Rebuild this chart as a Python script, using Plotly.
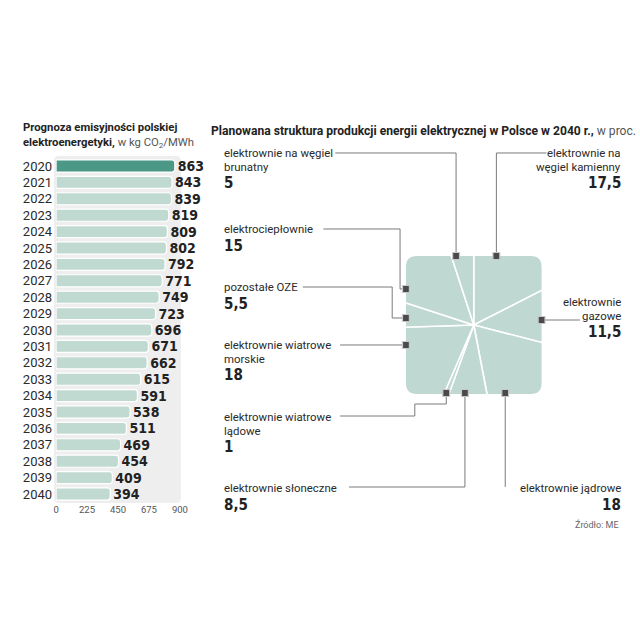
import plotly.graph_objects as go

# ---------------- data ----------------
years = [str(y) for y in range(2020, 2041)]
emissions = [863, 843, 839, 819, 809, 802, 792, 771, 749, 723, 696,
             671, 662, 615, 591, 538, 511, 469, 454, 409, 394]
x_ticks = [0, 225, 450, 675, 900]

# energy mix 2040, clockwise from 12 o'clock
mix_names = ["elektrownie na węgiel kamienny", "elektrownie gazowe",
             "elektrownie jądrowe", "elektrownie słoneczne",
             "elektrownie wiatrowe lądowe", "elektrownie wiatrowe morskie",
             "pozostałe OZE", "elektrociepłownie",
             "elektrownie na węgiel brunatny"]
mix_values = [17.5, 11.5, 18, 8.5, 1, 18, 5.5, 15, 5]

# ---------------- styling ----------------
W = 640
FONT = "Roboto, 'Liberation Sans', sans-serif"
COND = "'Liberation Sans Narrow', 'DejaVu Sans Condensed', Roboto, sans-serif"
DARK = "#4b9886"
LIGHT = "#c0dad2"
PIE = "#bfd8d1"
TXT = "#222222"
LINE = "#7a7a7a"


def X(px):
    return px / W


def Y(py):
    return 1 - py / W


def fmt(v):
    return f"{v:g}".replace(".", ",")


def rrect(x0, y0, x1, y1, r):
    pts = [
        ("M", x0 + r, y0), ("L", x1 - r, y0), ("Q", x1, y0, x1, y0 + r),
        ("L", x1, y1 - r), ("Q", x1, y1, x1 - r, y1), ("L", x0 + r, y1),
        ("Q", x0, y1, x0, y1 - r), ("L", x0, y0 + r), ("Q", x0, y0, x0 + r, y0),
    ]
    s = ""
    for p in pts:
        cmd = p[0]
        coords = p[1:]
        parts = []
        for i in range(0, len(coords), 2):
            parts.append(f"{X(coords[i]):.5f},{Y(coords[i + 1]):.5f}")
        s += cmd + " ".join(parts) + " "
    return s + "Z"


def poly(points):
    return "M" + " L".join(f"{X(a):.5f},{Y(b):.5f}" for a, b in points)


fig = go.Figure()

# ---------------- left: bar chart ----------------
fig.add_trace(go.Bar(
    y=years, x=emissions, orientation="h",
    marker=dict(color=[DARK] + [LIGHT] * (len(years) - 1),
                line=dict(color="white", width=1.2), cornerradius=3),
    width=0.74,
    text=[str(v) for v in emissions], textposition="outside",
    constraintext="none",
    textfont=dict(family=COND, size=14, color=TXT, weight="bold"),
    cliponaxis=False, hoverinfo="skip", showlegend=False,
    xaxis="x", yaxis="y",
))

y_top, y_bot = 157.8, 502.2

# ---------------- right: pie clipped to a rounded square ----------------
cx, cy, R = 479, 325, 97
fig.add_trace(go.Pie(
    values=mix_values, labels=mix_names, sort=False,
    direction="clockwise", rotation=0,
    marker=dict(colors=[PIE] * len(mix_values), line=dict(color="white", width=1.6)),
    textinfo="none", hoverinfo="skip", showlegend=False,
    domain=dict(x=[X(cx - R), X(cx + R)], y=[Y(cy + R), Y(cy - R)]),
))

shapes = []
# gray panel behind the bars
shapes.append(dict(type="path", xref="paper", yref="paper", layer="below",
                   path=rrect(52, 156, 181, 503, 5),
                   fillcolor="#eeeeee", line=dict(width=0)))

# white mask outside the rounded square
sq = (410, 256, 548, 394)
outer = poly([(cx - R - 4, cy - R - 4), (cx + R + 4, cy - R - 4),
              (cx + R + 4, cy + R + 4), (cx - R - 4, cy + R + 4)]) + " Z "
shapes.append(dict(type="path", xref="paper", yref="paper", layer="above",
                   path=outer + rrect(*sq, 11), fillrule="evenodd",
                   fillcolor="white", line=dict(width=0)))

# connector lines
connectors = [
    [(461, 255), (461, 153), (338, 153)],
    [(502, 255), (502, 153), (553, 153)],
    [(410, 289), (404, 289), (404, 229), (326, 229)],
    [(410, 318), (396, 318), (396, 287), (305, 287)],
    [(410, 345), (343, 345)],
    [(451, 393), (451, 404), (419, 404), (419, 416), (343, 416)],
    [(470, 393), (470, 487), (352, 487)],
    [(511, 393), (511, 487)],
    [(548, 320), (587, 320)],
]
for c in connectors:
    shapes.append(dict(type="path", xref="paper", yref="paper", layer="above",
                       path=poly(c), line=dict(color=LINE, width=1)))

markers = [(461, 256), (502, 256), (410, 289), (410, 318), (410, 345),
           (451, 393), (470, 393), (511, 393), (548, 320)]
for mx, my in markers:
    shapes.append(dict(type="rect", xref="paper", yref="paper", layer="above",
                       x0=X(mx - 3.5), x1=X(mx + 3.5), y0=Y(my + 3.5), y1=Y(my - 3.5),
                       fillcolor="#4a4a4a", line=dict(color="#c8c8c8", width=1.2)))

annotations = []


def txt(x, y, s, anchor="left", size=11.4, bold=False, color=TXT, family=FONT):
    annotations.append(dict(
        x=X(x), y=Y(y), xref="paper", yref="paper", text=s, showarrow=False,
        xanchor=anchor, yanchor="middle", align=anchor,
        font=dict(family=family, size=size, color=color,
                  weight="bold" if bold else "normal")))


txt(18, 128, "<b>Prognoza emisyjności polskiej</b>", size=11.3)
txt(18, 143, "<b>elektroenergetyki,</b> <span style='color:#555'>w kg CO<sub>2</sub>/MWh</span>",
    size=11.3)
txt(210, 131, "<b>Planowana struktura produkcji energii elektrycznej w Polsce w 2040 r.,</b>"
              " <span style='color:#555'>w proc.</span>", size=12.1)

LH = 14
blocks = [
    (["elektrownie na węgiel", "brunatny"], 8, 223, 153, "left"),
    (["elektrownie na", "węgiel kamienny"], 0, 631, 153, "right"),
    (["elektrociepłownie"], 7, 223, 229, "left"),
    (["pozostałe OZE"], 6, 223, 287, "left"),
    (["elektrownie wiatrowe", "morskie"], 5, 223, 345, "left"),
    (["elektrownie", "gazowe"], 1, 631, 302, "right"),
    (["elektrownie wiatrowe", "lądowe"], 4, 223, 417, "left"),
    (["elektrownie słoneczne"], 3, 223, 488, "left"),
    (["elektrownie jądrowe"], 2, 631, 488, "right"),
]
for lines, idx, x, y0, anc in blocks:
    for i, ln in enumerate(lines):
        txt(x, y0 + i * LH, ln, anchor=anc, size=11.4, color="#2a2a2a")
    gap = 17 if len(lines) == 1 else 16
    txt(x, y0 + (len(lines) - 1) * LH + gap, fmt(mix_values[idx]), anchor=anc,
        size=15, bold=True, family=COND)

txt(629, 524, "Źródło: ME", anchor="right", size=9, color="#666")

fig.update_layout(
    width=W, height=W, margin=dict(l=0, r=0, t=0, b=0),
    paper_bgcolor="white", plot_bgcolor="rgba(0,0,0,0)",
    bargap=0.26, shapes=shapes, annotations=annotations,
    xaxis=dict(domain=[X(54), X(180)], range=[0, 900], tickvals=x_ticks,
               showgrid=False, zeroline=False, showline=False, ticks="",
               tickfont=dict(family=FONT, size=9.5, color="#555"), fixedrange=True,
               anchor="y"),
    yaxis=dict(domain=[Y(y_bot), Y(y_top)], autorange="reversed",
               categoryorder="array", categoryarray=years,
               showgrid=False, zeroline=False, showline=False, ticks="",
               ticklabelstandoff=3,
               tickfont=dict(family=FONT, size=13, color="#2a2a2a"), fixedrange=True,
               anchor="x"),
    font=dict(family=FONT),
)

fig.write_html("out.html", post_script="document.body.style.margin='0';",
               config={"displayModeBar": False})
